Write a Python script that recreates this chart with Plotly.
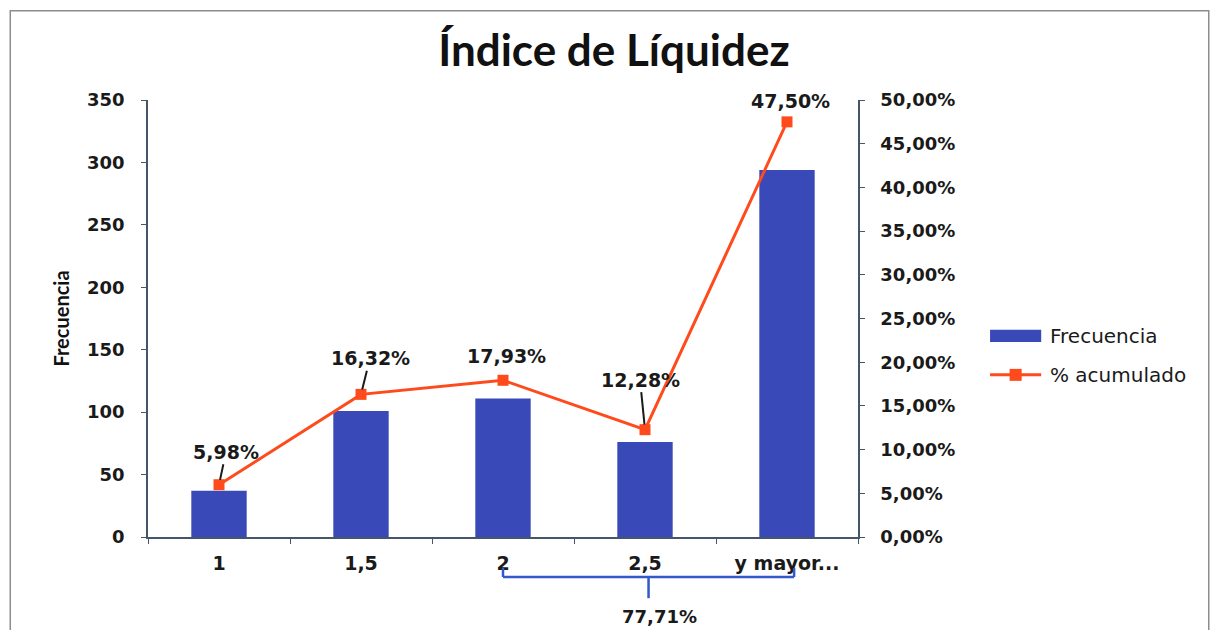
import plotly.graph_objects as go

# datos del histograma
categorias = ["1", "1,5", "2", "2,5", "y mayor..."]
frecuencia = [37, 101, 111, 76, 294]
pct_acumulado = [5.98, 16.32, 17.93, 12.28, 47.50]   # en %

# desplazamiento de cada etiqueta respecto a su marcador (px) y si lleva linea guia
label_dx = [7, 9, 3, -5, 3]
label_dy = [-33, -36, -24, -50, -21]
label_leader = [True, True, False, True, False]

# tramo que agrupa la llave inferior
grupo_ini, grupo_fin = 2, 4

def fmt_pct(v):
    return f"{v:.2f}".replace(".", ",") + "%"

azul = "#3949B8"
naranja = "#FF4A1C"
eje = "#46566A"
texto = "#1A1A1A"
tick_font = dict(family="DejaVu Sans", size=18, color=texto)

fig = go.Figure()

fig.add_trace(go.Bar(
    x=categorias, y=frecuencia, name="Frecuencia",
    marker=dict(color=azul, line=dict(width=0)), yaxis="y"
))

fig.add_trace(go.Scatter(
    x=categorias, y=[p / 100 for p in pct_acumulado], name="% acumulado",
    mode="lines+markers", yaxis="y2",
    line=dict(color=naranja, width=3),
    marker=dict(symbol="square", size=11, color=naranja)
))

# etiquetas de datos
for i, p in enumerate(pct_acumulado):
    common = dict(x=i, y=p / 100, xref="x", yref="y2",
                  text="<b>" + fmt_pct(p) + "</b>",
                  font=dict(family="DejaVu Sans", size=19, color=texto))
    if label_leader[i]:
        fig.add_annotation(showarrow=True, arrowhead=0, arrowwidth=2, arrowcolor=texto,
                           ax=label_dx[i], ay=label_dy[i], standoff=5, **common)
    else:
        fig.add_annotation(showarrow=False, xshift=label_dx[i], yshift=-label_dy[i], **common)

# llave inferior con el total del tramo
llave = "#3159C8"
x_der = grupo_fin + 0.05
x_mid = (grupo_ini + x_der) / 2
y_top, y_bar, y_bot = -0.071, -0.0915, -0.14
for x0, y0, x1, y1 in [
    (grupo_ini, y_top, grupo_ini, y_bar),
    (grupo_ini, y_bar, x_der, y_bar),
    (x_der, y_top, x_der, y_bar),
    (x_mid, y_bar, x_mid, y_bot),
]:
    fig.add_shape(type="line", xref="x", yref="paper", x0=x0, y0=y0, x1=x1, y1=y1,
                  line=dict(color=llave, width=2.5))
total_grupo = sum(pct_acumulado[grupo_ini:grupo_fin + 1])
fig.add_annotation(x=x_mid, y=-0.183, xref="x", yref="paper", xshift=11, yanchor="middle",
                   text="<b>" + fmt_pct(total_grupo) + "</b>", showarrow=False,
                   font=dict(family="DejaVu Sans", size=18, color=texto))

# leyenda al estilo del original
leg_x0, leg_x1, leg_txt = 1.186, 1.258, 1.268
fig.add_shape(type="rect", xref="paper", yref="paper", x0=leg_x0, x1=leg_x1,
              y0=0.446, y1=0.474, fillcolor=azul, line=dict(width=0))
fig.add_shape(type="line", xref="paper", yref="paper", x0=leg_x0, x1=leg_x1,
              y0=0.371, y1=0.371, line=dict(color=naranja, width=3))
leg_mx = (leg_x0 + leg_x1) / 2
fig.add_shape(type="rect", xref="paper", yref="paper",
              x0=leg_mx - 0.0085, x1=leg_mx + 0.0085, y0=0.371 - 0.0137, y1=0.371 + 0.0137,
              fillcolor=naranja, line=dict(width=0))
for nombre, yy in [("Frecuencia", 0.46), ("% acumulado", 0.371)]:
    fig.add_annotation(x=leg_txt, y=yy, xref="paper", yref="paper", xanchor="left",
                       yanchor="middle", text=nombre, showarrow=False,
                       font=dict(family="DejaVu Sans", size=20, color=texto))

# marco del grafico
fig.add_shape(type="rect", xref="paper", yref="paper",
              x0=-0.194, x1=1.494, y0=-0.3, y1=1.204,
              line=dict(color="#8C8C8C", width=1.5))

fig.update_layout(
    width=1218, height=630,
    margin=dict(l=140, r=368, t=92, b=101),
    plot_bgcolor="white", paper_bgcolor="white",
    separators=",.",
    title=dict(text="<b>Índice de Líquidez</b>", x=0.4975, y=0.933,
               xanchor="center", yanchor="middle",
               font=dict(family="Lato", size=44, color="#111111")),
    bargap=0.61,
    showlegend=False,
    xaxis=dict(
        type="category", showline=True, linecolor=eje, linewidth=1.5,
        ticks="outside", tickson="boundaries", ticklen=5, tickcolor=eje,
        tickfont=dict(family="DejaVu Sans", size=19, color=texto),
        ticklabelstandoff=8, showgrid=False, zeroline=False,
        tickprefix="<b>", ticksuffix="</b>"
    ),
    yaxis=dict(
        range=[0, 350], dtick=50, showline=True, linecolor=eje, linewidth=1.5,
        ticks="outside", ticklen=5, tickcolor=eje, showgrid=False, zeroline=False,
        tickfont=tick_font, ticklabelstandoff=13,
        tickprefix="<b>", ticksuffix="</b>",
        title=dict(text="<b>Frecuencia</b>", standoff=12,
                   font=dict(family="Lato", size=20, color="#111111"))
    ),
    yaxis2=dict(
        range=[0, 0.5], dtick=0.05, tickformat=".2%", overlaying="y", side="right",
        showline=True, linecolor=eje, linewidth=1.5,
        ticks="outside", ticklen=5, tickcolor=eje, showgrid=False, zeroline=False,
        tickfont=tick_font, ticklabelstandoff=12,
        tickprefix="<b>", ticksuffix="</b>"
    ),
)

fig.write_html("out.html")
